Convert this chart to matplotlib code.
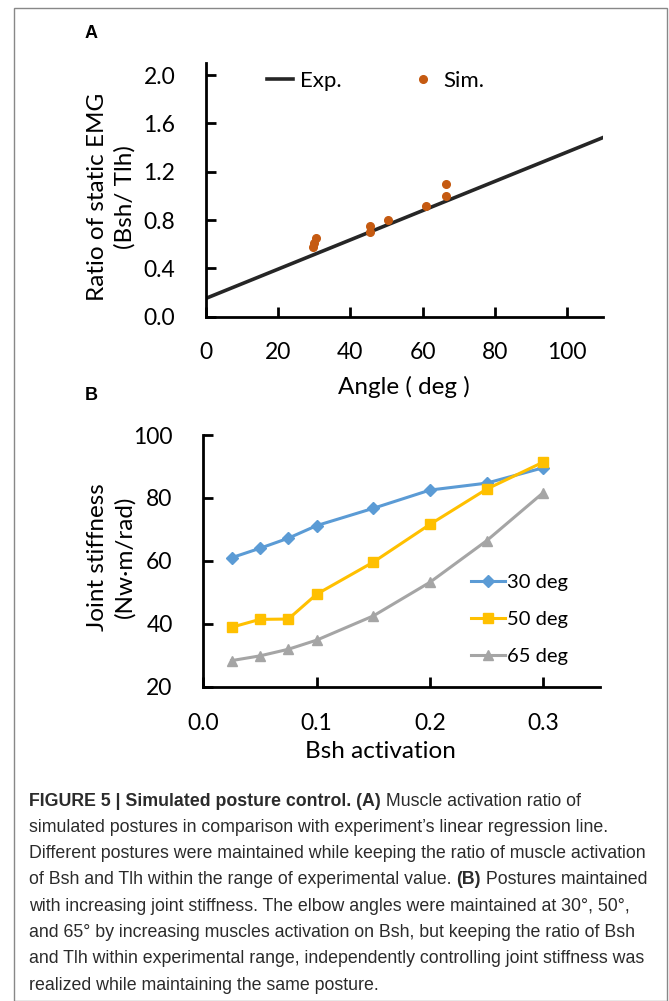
import matplotlib
matplotlib.use('Agg')
import numpy as np
import matplotlib.pyplot as plt
from matplotlib.patches import Rectangle
from matplotlib import font_manager

# panel A data
angle_sim = [29.7, 29.8, 30.5, 45.5, 45.5, 50.4, 61.0, 66.4, 66.4]
ratio_sim = [0.575, 0.61, 0.65, 0.70, 0.75, 0.80, 0.92, 1.00, 1.10]
exp_slope = 0.0121
exp_intercept = 0.152
exp_x = [0, 110]

# panel B data
activation = [0.025, 0.05, 0.075, 0.1, 0.15, 0.2, 0.25, 0.3]
stiff_30 = [61.0, 64.0, 67.2, 71.2, 76.7, 82.5, 84.7, 89.6]
stiff_50 = [38.9, 41.4, 41.5, 49.4, 59.6, 71.6, 82.8, 91.4]
stiff_65 = [28.3, 29.8, 31.9, 34.8, 42.5, 53.2, 66.4, 81.7]
series_labels = ['30 deg', '50 deg', '65 deg']

caption = [
    [("FIGURE 5 | Simulated posture control. (A)", True), (" Muscle activation ratio of", False)],
    [("simulated postures in comparison with experiment\u2019s linear regression line.", False)],
    [("Different postures were maintained while keeping the ratio of muscle activation", False)],
    [("of Bsh and Tlh within the range of experimental value. ", False), ("(B)", True), (" Postures maintained", False)],
    [("with increasing joint stiffness. The elbow angles were maintained at 30\u00b0, 50\u00b0,", False)],
    [("and 65\u00b0 by increasing muscles activation on Bsh, but keeping the ratio of Bsh", False)],
    [("and Tlh within experimental range, independently controlling joint stiffness was", False)],
    [("realized while maintaining the same posture.", False)],
]

installed = set(f.name for f in font_manager.fontManager.ttflist)
chart_font = 'Lato' if 'Lato' in installed else 'DejaVu Sans'
cap_font = 'Liberation Sans Narrow' if 'Liberation Sans Narrow' in installed else 'Liberation Sans'

plt.rcParams['font.family'] = chart_font
plt.rcParams['font.size'] = 16

W, H = 669, 1001
fig = plt.figure(figsize=(W / 100, H / 100), dpi=100)


def fx(px):
    return px / W


def fy(py):
    return 1 - py / H


def style_axes(ax, xpad, ypad):
    for s in ['top', 'right']:
        ax.spines[s].set_visible(False)
    for s in ['left', 'bottom']:
        ax.spines[s].set_linewidth(2)
    ax.tick_params(axis='both', direction='in', length=7, width=2, labelsize=16.5)
    ax.tick_params(axis='x', pad=xpad)
    ax.tick_params(axis='y', pad=ypad)


# frame round the figure
fig.patches.append(Rectangle((fx(14), 0), fx(653), fy(8), transform=fig.transFigure,
                             fill=False, edgecolor='#888888', linewidth=1))

# ---- panel A
axA = fig.add_axes([fx(206), fy(316.7), fx(397), (316.7 - 63) / H])
style_axes(axA, 18, 22)
ex = np.array(exp_x)
axA.plot(ex, exp_intercept + exp_slope * ex, color='#262626', linewidth=2.6, label='Exp.')
axA.plot(angle_sim, ratio_sim, 'o', color='#C55A11', markersize=5.5, label='Sim.', clip_on=False)
axA.set_xlim(0, 110)
axA.set_ylim(0, 2.1)
axA.set_xticks([0, 20, 40, 60, 80, 100])
axA.set_yticks([0, 0.4, 0.8, 1.2, 1.6, 2.0])
axA.set_yticklabels(['0.0', '0.4', '0.8', '1.2', '1.6', '2.0'])
axA.legend(loc='upper left', bbox_to_anchor=(0.153, 0.97), ncol=2, frameon=False,
           borderpad=0, borderaxespad=0,
           handlelength=1.2, handletextpad=0.3, columnspacing=3.05, fontsize=16)
fig.text(fx(404), fy(387), 'Angle ( deg )', ha='center', va='center', fontsize=17.5)
fig.text(fx(111), fy(197), 'Ratio of static EMG\n(Bsh/ Tlh)', rotation=90,
         ha='center', va='center', fontsize=17.5, linespacing=1.35)
fig.text(fx(85), fy(33), 'A', fontsize=13, weight='bold', family='Liberation Sans', va='center')

# ---- panel B
axB = fig.add_axes([fx(203.3), fy(686.7), fx(396.7), (686.7 - 435) / H])
style_axes(axB, 19, 22)
axB.plot(activation, stiff_30, color='#5B9BD5', marker='D', markersize=6, linewidth=2.2,
         label=series_labels[0])
axB.plot(activation, stiff_50, color='#FFC000', marker='s', markersize=7, linewidth=2.2,
         label=series_labels[1])
axB.plot(activation, stiff_65, color='#A5A5A5', marker='^', markersize=7, linewidth=2.2,
         label=series_labels[2])
axB.set_xlim(0, 0.35)
axB.set_ylim(20, 100)
axB.set_xticks([0, 0.1, 0.2, 0.3])
axB.set_xticklabels(['0.0', '0.1', '0.2', '0.3'])
axB.set_yticks([20, 40, 60, 80, 100])
axB.legend(loc='upper left', bbox_to_anchor=(0.675, 0.447), frameon=False,
           borderpad=0, borderaxespad=0,
           handlelength=1.7, handletextpad=0.1, labelspacing=0.97, fontsize=14.5)
fig.text(fx(380), fy(752), 'Bsh activation', ha='center', va='center', fontsize=17.5)
fig.text(fx(111), fy(557), 'Joint stiffness\n(Nw\u00b7m/rad)', rotation=90,
         ha='center', va='center', fontsize=17.5, linespacing=1.35)
fig.text(fx(85), fy(395), 'B', fontsize=13, weight='bold', family='Liberation Sans', va='center')

# ---- caption with bold runs
renderer = fig.canvas.get_renderer()
y = 801
for line in caption:
    x = 29
    for txt, bold in line:
        t = fig.text(fx(x), fy(y), txt, fontsize=12.8, family=cap_font, color='#2b2b2b',
                     weight='bold' if bold else 'normal', va='center', ha='left')
        x += t.get_window_extent(renderer).width
    y += 26.3

fig.savefig('out.png', dpi=100)
